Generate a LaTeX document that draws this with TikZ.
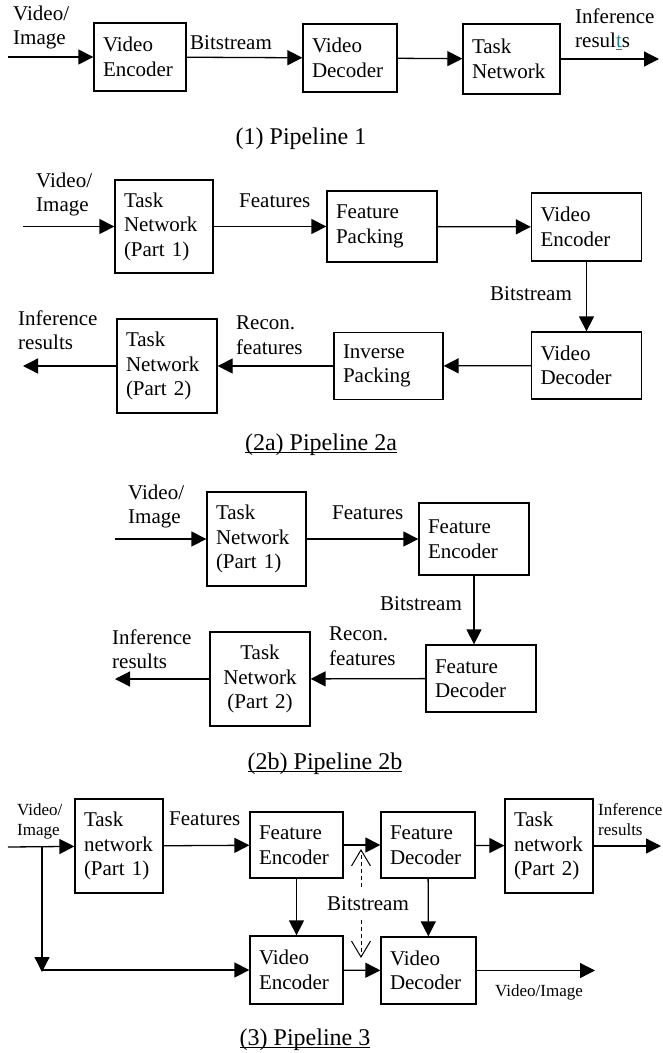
\documentclass[tikz,border=0pt]{standalone}
\usepackage{fontspec}
\setmainfont{Liberation Serif}
\usetikzlibrary{arrows.meta}
\definecolor{tealc}{RGB}{30,130,150}
\newcommand\fsn{\fontsize{21}{24.5}\selectfont}
\newcommand\fss{\fontsize{17}{20}\selectfont}
\newcommand\fsc{\fontsize{24}{28}\selectfont}
\newsavebox\ulbox
\newcommand\ulc[1]{\sbox\ulbox{#1}\rlap{\rule[-3pt]{\wd\ulbox}{1.2pt}}\usebox\ulbox}
\tikzset{
 blk/.style={draw, line width=1.3pt, inner xsep=9pt, inner ysep=0pt, align=left, font=\fsn},
 lbl/.style={inner sep=0pt, align=left, font=\fsn},
 slbl/.style={inner sep=0pt, align=left, font=\fss},
 captxt/.style={inner sep=0pt, font=\fsc, anchor=base},
 arr/.style={line width=1.3pt, -{Triangle[length=15pt,width=15pt]}},
 darr/.style={line width=1pt, dash pattern=on 4pt off 3pt, -{Straight Barb[length=16pt,width=19pt,line width=1pt]}},
}
\begin{document}
\begin{tikzpicture}[x=1pt,y=-1pt]
\fill[white] (0,0) rectangle (662,1053);
\useasboundingbox (0,0) rectangle (662,1053);

% ---------- Pipeline 1
\node[blk, minimum width=92pt, text width=74pt, minimum height=68pt] (ve1) at (140,57) {Video\\Encoder};
\node[blk, minimum width=94pt, text width=76pt, minimum height=68pt] (vd1) at (350,58) {Video\\Decoder};
\node[blk, minimum width=97pt, text width=79pt, minimum height=70pt] (tn1) at (511.5,59) {Task\\Network};
\coordinate (in1) at (8,57);
\coordinate (out1) at (659,59);
\draw[arr] (in1) -- (ve1);
\draw[arr] (ve1) -- (vd1);
\draw[arr] (vd1) -- (tn1);
\draw[arr] (tn1) -- (out1);
\node[lbl, anchor=west] (vi1) at (13,27.4) {Video/\\Image};
\node[lbl, anchor=base west] (bs1) at (190,49) {Bitstream};
\node[lbl, anchor=west] (ir1) at (575,29) {Inference\\resul\textcolor{tealc}{\underline{t}}s};
\node[captxt] (c1) at (301,144) {(1) Pipeline 1};

% ---------- Pipeline 2a
\node[blk, minimum width=98pt, text width=80pt, minimum height=93pt] (tna1) at (164,226.5) {Task\\Network\\(Part 1)};
\node[blk, minimum width=110pt, text width=92pt, minimum height=71pt] (fpa) at (382,226.5) {Feature\\Packing};
\node[blk, minimum width=110pt, text width=92pt, minimum height=68pt] (vea) at (586.5,227) {Video\\Encoder};
\node[blk, minimum width=110pt, text width=92pt, minimum height=67pt] (vda) at (586.5,365.5) {Video\\Decoder};
\node[blk, minimum width=109pt, text width=91pt, minimum height=67pt] (ipa) at (388.5,366) {Inverse\\Packing};
\node[blk, minimum width=100pt, text width=82pt, minimum height=94pt] (tna2) at (167,366) {Task\\Network\\(Part 2)};
\coordinate (ina) at (23,226.5);
\coordinate (outa) at (23,366);
\draw[arr] (ina) -- (tna1);
\draw[arr] (tna1) -- (fpa);
\draw[arr] (fpa) -- (vea);
\draw[arr] (vea) -- (vda);
\draw[arr] (vda) -- (ipa);
\draw[arr] (ipa) -- (tna2);
\draw[arr] (tna2) -- (outa);
\node[lbl, anchor=west] (vi2a) at (36,194.4) {Video/\\Image};
\node[lbl, anchor=base west] (ft2a) at (239,207) {Features};
\node[lbl, anchor=base west] (bs2a) at (490,300) {Bitstream};
\node[lbl, anchor=west] (rc2a) at (236,335) {Recon.\\features};
\node[lbl, anchor=west] (ir2a) at (18,330) {Inference\\results};
\node[captxt] (c2a) at (321,450) {\ulc{(2a) Pipeline 2a}};

% ---------- Pipeline 2b
\node[blk, minimum width=99pt, text width=81pt, minimum height=94pt] (tnb1) at (256.5,539) {Task\\Network\\(Part 1)};
\node[blk, minimum width=110pt, text width=92pt, minimum height=72pt] (feb) at (474,539) {Feature\\Encoder};
\node[blk, minimum width=110pt, text width=92pt, minimum height=67pt] (fdb) at (481,678.5) {Feature\\Decoder};
\node[blk, align=center, minimum width=100pt, text width=82pt, minimum height=94pt] (tnb2) at (260,679) {Task\\Network\\(Part 2)};
\coordinate (inb) at (115,539);
\coordinate (outb) at (115,679);
\draw[arr] (inb) -- (tnb1);
\draw[arr] (tnb1) -- (feb);
\draw[arr] (feb.south) -- (feb.south |- fdb.north);
\draw[arr] (fdb) -- (tnb2);
\draw[arr] (tnb2) -- (outb);
\node[lbl, anchor=west] (vi2b) at (128,506.4) {Video/\\Image};
\node[lbl, anchor=base west] (ft2b) at (332,519) {Features};
\node[lbl, anchor=base west] (bs2b) at (380,610) {Bitstream};
\node[lbl, anchor=west] (rc2b) at (329,646) {Recon.\\features};
\node[lbl, anchor=west] (ir2b) at (112,649) {Inference\\results};
\node[captxt] (c2b) at (325,769) {\ulc{(2b) Pipeline 2b}};

% ---------- Pipeline 3
\node[blk, minimum width=88pt, text width=70pt, minimum height=94pt] (tnc1) at (119,846) {Task\\network\\(Part 1)};
\node[blk, minimum width=93pt, text width=75pt, minimum height=66pt] (fec) at (296.5,845) {Feature\\Encoder};
\node[blk, minimum width=94pt, text width=76pt, minimum height=66pt] (fdc) at (428,845) {Feature\\Decoder};
\node[blk, minimum width=88pt, text width=70pt, minimum height=94pt] (tnc2) at (549,846) {Task\\network\\(Part 2)};
\node[blk, minimum width=93pt, text width=75pt, minimum height=68pt] (vec) at (296.5,970) {Video\\Encoder};
\node[blk, minimum width=95pt, text width=77pt, minimum height=67pt] (vdc) at (428.5,970.5) {Video\\Decoder};
\coordinate (inc) at (8,847);
\coordinate (brc) at (42,847);
\coordinate (bdc) at (42,972);
\coordinate (bhc) at (42,970);
\coordinate (outc) at (661,846);
\coordinate (outc2) at (595,970.5);
\draw[arr] (inc) -- (tnc1);
\draw[arr] (brc) -- (bdc);
\draw[arr] (bhc) -- (vec);
\draw[arr] (tnc1) -- (fec);
\draw[arr] (fec) -- (fdc);
\draw[arr] (fdc) -- (tnc2);
\draw[arr] (tnc2) -- (outc);
\draw[arr] (fec) -- (vec);
\draw[arr] (fdc) -- (vdc);
\draw[arr] (vec) -- (vdc);
\draw[arr] (vdc) -- (outc2);
\coordinate (du1) at (361,887);
\coordinate (du2) at (361,849);
\coordinate (dd1) at (361,920);
\coordinate (dd2) at (361,958);
\draw[darr] (du1) -- (du2);
\draw[darr] (dd1) -- (dd2);
\node[slbl, anchor=west] (vi3) at (17,821.6) {Video/\\Image};
\node[lbl, anchor=base west] (ft3) at (169,825) {Features};
\node[slbl, anchor=west] (ir3) at (598,820) {Inference\\results};
\node[slbl, anchor=base west] (vi3b) at (495,996) {Video/Image};
\node[lbl, anchor=base west] (bs3) at (327,910) {Bitstream};
\node[captxt] (c3) at (305,1045) {\ulc{(3) Pipeline 3}};
\end{tikzpicture}
\end{document}
